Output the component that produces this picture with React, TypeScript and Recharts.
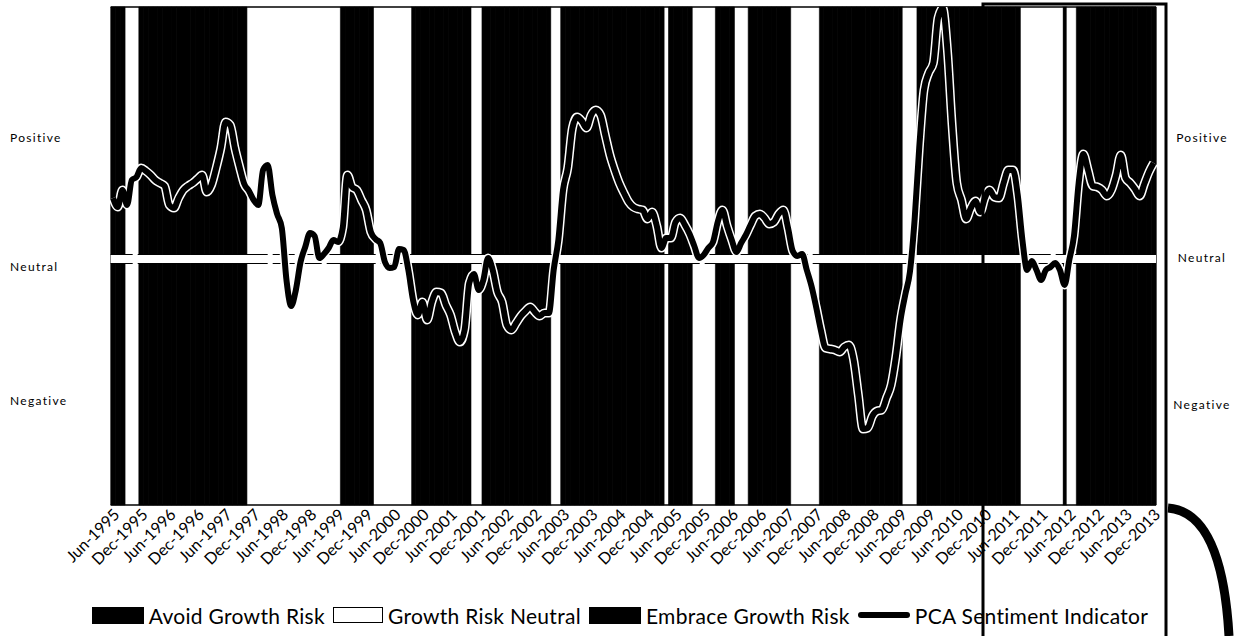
import React from "react";
import { Bar, ComposedChart, Legend, Line, ReferenceLine, XAxis, YAxis } from "recharts";

// PCA sentiment score, monthly from Jun-1995 to Dec-2013 (0 = neutral)
const sentiment = [
  0.61, 0.52, 0.69, 0.54, 0.79, 0.82, 0.91, 0.88, 0.84, 0.79, 0.76, 0.73,
  0.54, 0.51, 0.61, 0.69, 0.73, 0.76, 0.8, 0.84, 0.67, 0.74, 0.91, 1.11,
  1.37, 1.34, 1.11, 0.92, 0.75, 0.68, 0.59, 0.54, 0.89, 0.94, 0.64, 0.45,
  0.31, -0.21, -0.47, -0.31, -0.03, 0.12, 0.26, 0.23, 0.01, 0.05, 0.11, 0.19,
  0.17, 0.31, 0.84, 0.72, 0.69, 0.59, 0.49, 0.27, 0.2, 0.16, -0.03, -0.09,
  -0.08, 0.1, 0.09, -0.11, -0.41, -0.56, -0.43, -0.61, -0.43, -0.33, -0.34, -0.46,
  -0.56, -0.73, -0.83, -0.71, -0.24, -0.15, -0.31, -0.21, 0.01, -0.11, -0.33, -0.43,
  -0.66, -0.71, -0.64, -0.57, -0.52, -0.48, -0.53, -0.57, -0.54, -0.54, -0.11, 0.19,
  0.69, 0.91, 1.31, 1.42, 1.38, 1.31, 1.44, 1.49, 1.44, 1.24, 1.04, 0.89,
  0.76, 0.66, 0.57, 0.52, 0.5, 0.49, 0.4, 0.47, 0.33, 0.11, 0.21, 0.21,
  0.37, 0.41, 0.34, 0.25, 0.13, 0.01, 0.04, 0.11, 0.17, 0.37, 0.49, 0.33,
  0.19, 0.07, 0.16, 0.24, 0.34, 0.43, 0.45, 0.41, 0.35, 0.37, 0.45, 0.49,
  0.31, 0.08, 0.03, 0.05, -0.11, -0.27, -0.48, -0.71, -0.89, -0.9, -0.91, -0.93,
  -0.88, -0.86, -1.01, -1.36, -1.7, -1.69, -1.57, -1.52, -1.51, -1.39, -1.26, -0.98,
  -0.61, -0.36, -0.13, 0.39, 1.12, 1.69, 1.86, 1.96, 2.41, 2.51, 2.09, 1.34,
  0.76, 0.59, 0.4, 0.51, 0.58, 0.47, 0.61, 0.69, 0.62, 0.61, 0.76, 0.89,
  0.89, 0.64, 0.19, -0.11, -0.02, -0.11, -0.21, -0.11, -0.08, -0.04, -0.11, -0.26,
  -0.01, 0.23, 0.76, 1.05, 0.89, 0.73, 0.72, 0.69, 0.63, 0.69, 0.84, 1.04,
  0.81, 0.76, 0.7, 0.63, 0.75, 0.87, 0.96,
];

// regime runs: A = avoid, N = neutral, E = embrace, with length in months
const regimeRuns: [string, number][] = [
  ["E", 3], ["N", 3], ["E", 23], ["N", 20], ["E", 7], ["N", 8], ["A", 13], ["N", 2],
  ["A", 15], ["N", 2], ["E", 22], ["N", 1], ["E", 5], ["N", 5], ["E", 4], ["N", 3],
  ["E", 9], ["N", 6], ["A", 18], ["N", 3], ["E", 22], ["N", 9], ["A", 1], ["N", 2],
  ["E", 17],
];

const monthNames = ["Jan", "Feb", "Mar", "Apr", "May", "Jun", "Jul", "Aug", "Sep", "Oct", "Nov", "Dec"];
const firstYear = 1995;
const firstMonth = 5; // Jun

const yTickLabels: Record<string, string> = { "1.22": "Positive", "0": "Neutral", "-1.41": "Negative" };
const yTicks = [-1.41, 0, 1.22];

const legendOrder = ["avoid", "neutral", "embrace", "pca"];

const regimes = regimeRuns.flatMap(([r, n]) => Array.from({ length: n }, () => r));

const data = sentiment.map((v, i) => {
  const m = firstMonth + i;
  return {
    month: `${monthNames[m % 12]}-${firstYear + Math.floor(m / 12)}`,
    avoid: regimes[i] === "A" ? 1 : 0,
    neutral: regimes[i] === "N" ? 1 : 0,
    embrace: regimes[i] === "E" ? 1 : 0,
    pca: v,
  };
});

const FONT = "Lato, 'Open Sans', sans-serif";

const XTick = (props: any) => {
  const { x, y, payload } = props;
  const tx = x + 3;
  const ty = y - 2;
  return (
    <text
      x={tx}
      y={ty}
      transform={`rotate(-45 ${tx} ${ty})`}
      textAnchor="end"
      dominantBaseline="central"
      fontSize={16}
      fontFamily={FONT}
      fill="#000"
    >
      {payload.value}
    </text>
  );
};

const YTick = (props: any) => {
  const { y, payload, side } = props;
  const label = yTickLabels[String(payload.value)] ?? "";
  const leftDy: Record<string, number> = { Positive: 0, Neutral: 7, Negative: 0 };
  const rightDy: Record<string, number> = { Positive: 0, Neutral: -2, Negative: 4 };
  const dy = side === "left" ? leftDy[label] : rightDy[label];
  return (
    <text
      x={side === "left" ? 10 : 1202}
      y={y + dy}
      textAnchor={side === "left" ? "start" : "middle"}
      dominantBaseline="central"
      fontSize={12}
      letterSpacing={1.3}
      fontFamily={FONT}
      fill="#000"
    >
      {label}
    </text>
  );
};

const LegendContent = (props: any) => {
  const items = (props.payload ?? [])
    .filter((p: any) => p.type !== "none")
    .sort((a: any, b: any) => legendOrder.indexOf(a.dataKey) - legendOrder.indexOf(b.dataKey));
  return (
    <div
      style={{
        display: "flex",
        justifyContent: "center",
        alignItems: "center",
        height: 30,
        fontFamily: FONT,
        fontSize: 21,
        letterSpacing: 0.3,
        color: "#000",
        gap: 8,
      }}
    >
      {items.map((p: any) => {
        let swatch: React.ReactNode;
        if (p.dataKey === "pca") {
          swatch = <span style={{ display: "inline-block", width: 52, height: 6, background: "#000", borderRadius: 3 }} />;
        } else if (p.dataKey === "neutral") {
          swatch = (
            <span
              style={{ display: "inline-block", width: 48, height: 14, background: "#fff", border: "1.5px solid #000" }}
            />
          );
        } else {
          swatch = <span style={{ display: "inline-block", width: 52, height: 17, background: "#000" }} />;
        }
        return (
          <span key={p.value} style={{ display: "flex", alignItems: "center", gap: 5 }}>
            {swatch}
            {p.value}
          </span>
        );
      })}
    </div>
  );
};

export default function App() {
  return (
    <div style={{ position: "absolute", left: 0, top: 0, width: 1240, height: 636, background: "#fff" }}>
      <ComposedChart
        width={1240}
        height={636}
        data={data}
        margin={{ top: 7, right: 0, bottom: 6, left: 0 }}
        barCategoryGap={0}
        barGap={0}
      >
        <XAxis
          dataKey="month"
          interval={5}
          height={95}
          tickLine={false}
          axisLine={{ stroke: "#000", strokeWidth: 1.5 }}
          tick={<XTick />}
        />
        <YAxis
          yAxisId="left"
          domain={[-2.46, 2.52]}
          ticks={yTicks}
          width={110.7}
          axisLine={false}
          tickLine={false}
          allowDataOverflow
          tick={<YTick side="left" />}
        />
        <YAxis
          yAxisId="right"
          orientation="right"
          domain={[-2.46, 2.52]}
          ticks={yTicks}
          width={84}
          axisLine={false}
          tickLine={false}
          allowDataOverflow
          tick={<YTick side="right" />}
        />
        <YAxis yAxisId="band" domain={[0, 1]} hide />
        <Bar yAxisId="band" dataKey="avoid" name="Avoid Growth Risk" stackId="r" fill="#000" stroke="#000" strokeWidth={0.6} isAnimationActive={false} />
        <Bar yAxisId="band" dataKey="neutral" name="Growth Risk Neutral" stackId="r" fill="#fff" stroke="#fff" strokeWidth={0.6} isAnimationActive={false} />
        <Bar yAxisId="band" dataKey="embrace" name="Embrace Growth Risk" stackId="r" fill="#000" stroke="#000" strokeWidth={0.6} isAnimationActive={false} />
        <ReferenceLine yAxisId="band" y={1} stroke="#000" strokeWidth={1.5} />
        <ReferenceLine yAxisId="left" y={0} stroke="#fff" strokeWidth={8} />
        <ReferenceLine yAxisId="left" y={0.045} stroke="#000" strokeWidth={1} strokeDasharray="22 5" />
        <ReferenceLine yAxisId="left" y={-0.045} stroke="#000" strokeWidth={1} strokeDasharray="22 5" />
        <Line
          yAxisId="left"
          dataKey="pca"
          type="monotone"
          stroke="#fff"
          strokeWidth={9}
          dot={false}
          activeDot={false}
          legendType="none"
          isAnimationActive={false}
        />
        <Line
          yAxisId="left"
          dataKey="pca"
          name="PCA Sentiment Indicator"
          type="monotone"
          stroke="#000"
          strokeWidth={6}
          strokeLinejoin="round"
          dot={false}
          activeDot={false}
          isAnimationActive={false}
        />
        <Legend verticalAlign="bottom" height={30} content={<LegendContent />} wrapperStyle={{ left: 0, width: 1240 }} />
      </ComposedChart>
      {/* hand-drawn highlight box and stroke on the scanned page */}
      <svg width={1240} height={636} style={{ position: "absolute", left: 0, top: 0, pointerEvents: "none" }}>
        <path d="M983 636 L983 4 L1166 4 L1166 636" fill="none" stroke="#000" strokeWidth={3} />
        <path d="M1168 508 Q1222 512 1229 636" fill="none" stroke="#000" strokeWidth={9} />
      </svg>
    </div>
  );
}
